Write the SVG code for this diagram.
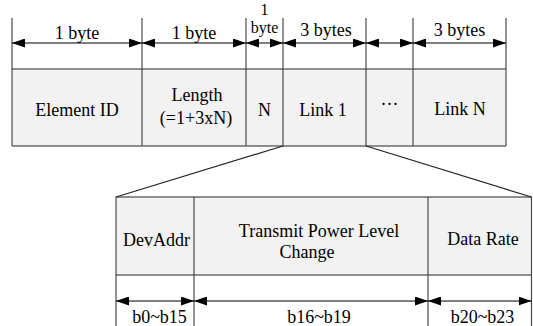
<svg xmlns="http://www.w3.org/2000/svg" width="533" height="326" viewBox="0 0 533 326">
<style>
text{font-family:"Liberation Serif","Times New Roman",serif;font-size:18px;fill:#000;text-anchor:middle}
.sm{font-size:16px}
.cell{fill:#f2f2f2;stroke:none}
.ln{stroke:#222;stroke-width:1.2;fill:none}
.vl{stroke:#4a4a4a;stroke-width:1.2;fill:none}
.ar{stroke:#000;stroke-width:1;fill:none;marker-start:url(#ah);marker-end:url(#ah)}
</style>
<defs>
<marker id="ah" viewBox="0 0 13 9" refX="13" refY="4.5" markerWidth="13" markerHeight="9" markerUnits="userSpaceOnUse" orient="auto-start-reverse">
<path d="M0,0 L13,4.5 L0,9 z" fill="#000"/>
</marker>
</defs>
<rect width="533" height="326" fill="#fff"/>

<g id="top-frame">
<rect class="cell" x="12" y="69" width="494" height="77"/>
<line class="ln" x1="12" y1="69" x2="506" y2="69"/>
<line class="ln" x1="12" y1="146" x2="506" y2="146"/>
<line class="vl" x1="12" y1="18" x2="12" y2="146"/>
<line class="vl" x1="142" y1="18" x2="142" y2="146"/>
<line class="vl" x1="246" y1="18" x2="246" y2="146"/>
<line class="vl" x1="283" y1="18" x2="283" y2="146"/>
<line class="vl" x1="366" y1="18" x2="366" y2="146"/>
<line class="vl" x1="413" y1="18" x2="413" y2="146"/>
<line class="vl" x1="506" y1="18" x2="506" y2="146"/>
</g>

<g id="element-id">
<text x="77" y="39">1 byte</text>
<text x="77" y="116">Element ID</text>
</g>
<g id="length">
<text x="194" y="39">1 byte</text>
<text x="197" y="101">Length</text>
<text x="196" y="124">(=1+3xN)</text>
</g>
<g id="n-field">
<text class="sm" x="264.5" y="15">1</text>
<text class="sm" x="264.5" y="33">byte</text>
<text x="264.5" y="116">N</text>
</g>
<g id="link1">
<text x="326" y="36">3 bytes</text>
<text x="323" y="116">Link 1</text>
</g>
<g id="ellipsis">
<text x="389.5" y="110">···</text>
</g>
<g id="linkN">
<text x="459.5" y="36">3 bytes</text>
<text x="460" y="115">Link N</text>
</g>

<g id="bottom-frame">
<rect class="cell" x="116" y="197" width="416" height="78"/>
<line class="ln" x1="116" y1="197" x2="532" y2="197"/>
<line class="ln" x1="116" y1="275" x2="532" y2="275"/>
<line class="vl" x1="116" y1="197" x2="116" y2="326"/>
<line class="vl" x1="194" y1="197" x2="194" y2="326"/>
<line class="vl" x1="428" y1="197" x2="428" y2="326"/>
<line class="vl" x1="531.5" y1="197" x2="531.5" y2="326"/>
</g>
<g id="devaddr">
<text x="156.5" y="246">DevAddr</text>
<text x="159.5" y="323">b0~b15</text>
</g>
<g id="tx-power">
<text x="319" y="237">Transmit Power Level</text>
<text x="307" y="258">Change</text>
<text x="319" y="323">b16~b19</text>
</g>
<g id="data-rate">
<text x="483" y="245">Data Rate</text>
<text x="482.5" y="323">b20~b23</text>
</g>

<g id="connectors">
<line class="ar" x1="12" y1="43" x2="142" y2="43"/>
<line class="ar" x1="142" y1="43" x2="246" y2="43"/>
<line class="ar" x1="246" y1="43" x2="283" y2="43"/>
<line class="ar" x1="283" y1="43" x2="366" y2="43"/>
<line class="ar" x1="366" y1="43" x2="413" y2="43"/>
<line class="ar" x1="413" y1="43" x2="506" y2="43"/>
<line class="ar" x1="116" y1="301" x2="194" y2="301"/>
<line class="ar" x1="194" y1="301" x2="428" y2="301"/>
<line class="ar" x1="428" y1="301" x2="531.5" y2="301"/>
<line class="ln" x1="283" y1="146" x2="116" y2="197"/>
<line class="ln" x1="366" y1="146" x2="531.5" y2="197"/>
</g>
</svg>
